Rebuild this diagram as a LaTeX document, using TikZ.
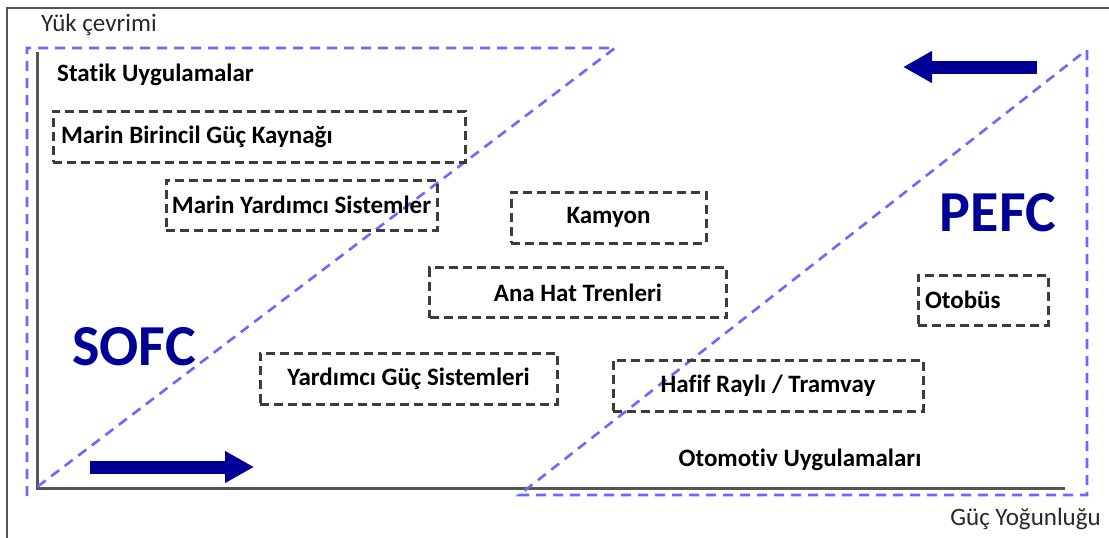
\documentclass[tikz,border=0pt]{standalone}
\usepackage{fontspec}
\setmainfont{Carlito}[Ligatures=NoCommon]
\usetikzlibrary{arrows.meta}

\definecolor{fcnavy}{RGB}{0,0,150}
\definecolor{zoneblue}{RGB}{105,105,255}
\definecolor{boxgray}{RGB}{60,60,60}
\definecolor{axisgray}{RGB}{85,85,85}
\definecolor{captext}{RGB}{40,40,40}

\tikzset{
  appbox/.style={draw=boxgray, line width=3pt, dash pattern=on 9pt off 5pt,
    inner sep=0pt, font=\fontsize{25}{30}\selectfont\bfseries},
  zone/.style={draw=zoneblue, line width=2.6pt, dash pattern=on 10pt off 7pt},
  fclabel/.style={text=fcnavy, inner sep=0pt, font=\fontsize{58}{66}\selectfont\bfseries},
  grouplabel/.style={inner sep=0pt, font=\fontsize{25}{30}\selectfont\bfseries},
  axislabel/.style={text=captext, inner sep=0pt, font=\fontsize{25}{30}\selectfont},
  bigarrow/.style={fcnavy, line width=13pt, -{Triangle[length=29pt,width=30pt]}}
}

\begin{document}
\begin{tikzpicture}[x=1pt, y=-1pt, line cap=butt, line join=miter]

  %% ════ frame and axes ════
  \draw[axisgray, line width=2.5pt] (7,538) -- (7,8) -- (1109,8);
  \draw[axisgray, line width=3pt] (37,52) -- (37,488) -- (1065,488);

  %% ════ SOFC / PEFC zones ════
  \draw[zone] (27,496) -- (27,48) -- (615,48) -- (37,487);
  \draw[zone] (1087,50) -- (1087,495) -- (519,495) -- (1084,52);

  %% ════ direction arrows ════
  \draw[bigarrow] (90,467) -- (254,467);
  \draw[bigarrow] (1037,67) -- (903,67);

  %% ════ axis and group labels ════
  \node[axislabel, anchor=west] (yukcevrimi) at (41,25) {Yük çevrimi};
  \node[axislabel, anchor=east] (gucyogunlugu) at (1101,519) {Güç Yoğunluğu};
  \node[grouplabel, anchor=west] (statik) at (57,75) {Statik Uygulamalar};
  \node[grouplabel] (otomotiv) at (800,460) {Otomotiv Uygulamaları};
  \node[fclabel] (sofc) at (134,347) {SOFC};
  \node[fclabel] (pefc) at (998,213) {PEFC};

  %% ════ application boxes ════
  \node[appbox, minimum width=412, minimum height=51, text width=396pt, align=flush left] (marinbirincil) at (259,136.5) {Marin Birincil Güç Kaynağı};
  \node[appbox, minimum width=271, minimum height=50] (marinyardimci) at (301.5,205) {Marin Yardımcı Sistemler};
  \node[appbox, minimum width=195, minimum height=51] (kamyon) at (608.5,217.5) {Kamyon\hspace{20pt}};
  \node[appbox, minimum width=297, minimum height=50] (anahat) at (578,292.5) {Ana Hat Trenleri};
  \node[appbox, minimum width=297, minimum height=51] (yardimcigug) at (408.5,378.5) {Yardımcı Güç Sistemleri};
  \node[appbox, minimum width=310, minimum height=51] (hafifrayli) at (768,385.5) {Hafif Raylı / Tramvay};
  \node[appbox, minimum width=130, minimum height=50, text width=116pt, align=flush left] (otobus) at (983,300) {Otobüs};

  % pin the canvas
  \pgfresetboundingbox
  \path[use as bounding box] (0,0) rectangle (1109,538);
\end{tikzpicture}
\end{document}
